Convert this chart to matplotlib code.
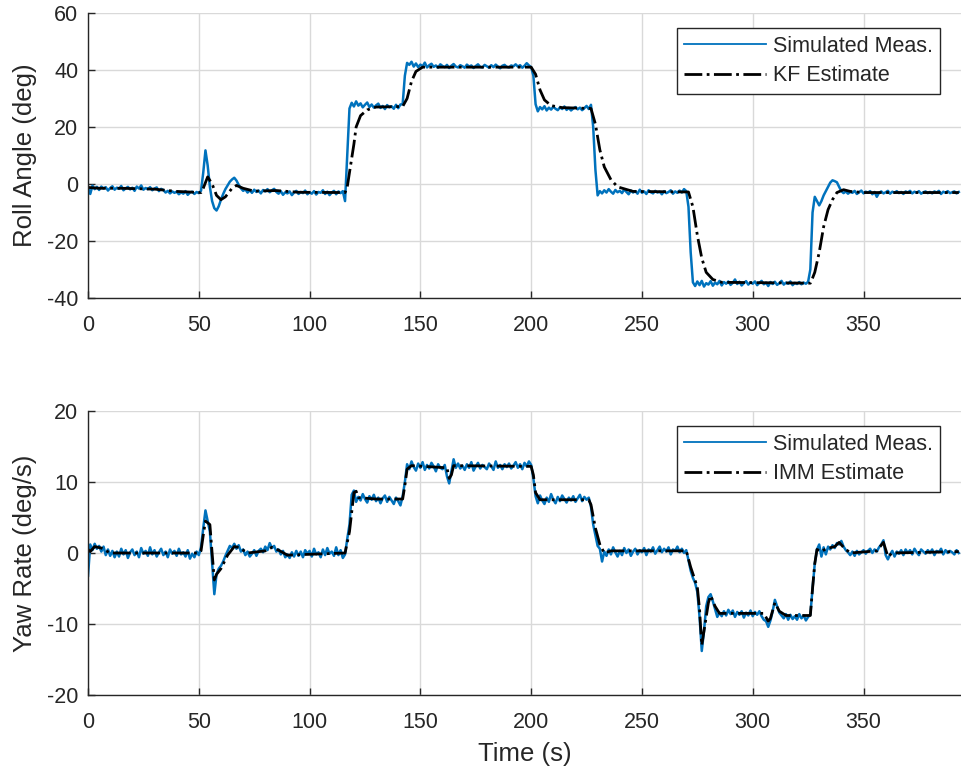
import numpy as np
import matplotlib.pyplot as plt

plt.rcParams['font.family'] = ['Liberation Sans', 'DejaVu Sans']
plt.rcParams['axes.unicode_minus'] = False

# simulated measurements, one value per second (t = 0..393 s)
roll_meas = [
    -1.2, -3.5, -0.6, -1.8, -1.0, -2.1, -0.9, -1.6, -1.1, -2.3,
    -1.4, -0.8, -2.0, -1.3, -1.7, -0.7, -2.2, -1.5, -1.0, -1.9,
    -1.3, -2.4, -0.9, -1.6, -0.5, -2.0, -1.4, -1.8, -1.1, -2.2,
    -1.6, -1.2, -2.5, -1.7, -2.1, -3.0, -2.4, -3.3, -2.6, -3.1,
    -2.7, -3.6, -2.9, -3.4, -2.5, -3.8, -3.0, -2.7, -3.5, -2.8,
    -3.2, -2.4, 4.0, 11.8, 6.5, -1.0, -6.0, -8.5, -9.3, -7.8,
    -5.5, -3.5, -1.8, -0.5, 0.8, 1.6, 2.2, 1.2, -0.3, -1.5,
    -2.4, -1.9, -3.0, -2.2, -3.1, -2.0, -2.8, -2.3, -3.3, -2.1,
    -2.6, -1.8, -2.9, -2.2, -1.7, -2.8, -3.4, -2.5, -3.8, -2.9,
    -3.3, -2.6, -3.9, -3.0, -2.4, -3.5, -2.8, -3.2, -2.3, -3.6,
    -2.9, -3.4, -2.5, -3.7, -2.8, -3.1, -2.2, -3.5, -2.7, -3.9,
    -3.0, -2.4, -3.6, -2.6, -3.2, -2.5, -6.0, 10.0, 26.5, 28.5,
    27.2, 29.0, 27.5, 28.3, 26.9, 27.8, 28.6, 27.0, 27.9, 26.8,
    27.6, 28.2, 26.7, 27.4, 26.3, 27.7, 26.9, 27.3, 26.4, 27.8,
    26.6, 27.9, 28.0, 38.0, 42.5, 41.8, 42.9, 41.2, 42.3, 41.0,
    41.9, 41.3, 42.6, 40.9, 41.7, 42.2, 41.1, 41.6, 40.8, 42.0,
    41.4, 41.0, 41.8, 40.7, 41.5, 42.1, 41.2, 40.9, 41.7, 41.3,
    40.8, 41.9, 41.2, 41.6, 40.7, 41.4, 42.0, 41.1, 40.9, 41.8,
    41.3, 40.8, 41.7, 41.0, 41.9, 41.2, 40.6, 41.5, 41.8, 41.1,
    40.9, 41.6, 41.3, 42.0, 41.2, 41.7, 40.8, 41.5, 42.4, 41.6,
    41.0, 38.0, 28.0, 25.5, 27.0, 26.2, 27.3, 25.8, 26.8, 26.1,
    27.1, 26.4, 25.9, 26.9, 26.3, 27.2, 26.0, 26.7, 25.8, 26.5,
    27.0, 26.2, 26.8, 25.9, 26.6, 27.4, 26.3, 27.8, 20.0, 5.0,
    -4.0, -2.5, -3.3, -2.2, -3.0, -1.8, -2.7, -3.4, -2.1, -2.9,
    -2.4, -3.2, -1.9, -2.8, -3.6, -2.3, -3.0, -2.5, -3.4, -2.0,
    -3.1, -2.6, -3.5, -2.2, -2.9, -3.3, -2.4, -3.0, -2.7, -3.6,
    -2.5, -3.2, -2.8, -2.2, -3.4, -2.6, -3.1, -2.3, -3.0, -1.8,
    -2.5, -8.0, -24.0, -34.5, -35.8, -34.2, -35.5, -34.0, -36.0, -34.8,
    -35.3, -34.1, -35.7, -34.6, -35.2, -34.0, -35.6, -34.4, -35.0, -34.2,
    -35.4, -34.7, -33.5, -35.1, -34.3, -35.6, -34.8, -34.1, -35.3, -34.5,
    -35.0, -34.2, -35.5, -34.7, -34.0, -35.2, -34.6, -35.8, -34.4, -35.1,
    -34.3, -35.4, -34.8, -34.0, -35.3, -34.6, -35.0, -34.2, -35.5, -34.7,
    -35.1, -34.4, -35.2, -34.6, -35.0, -34.3, -30.0, -10.0, -4.5, -6.0,
    -7.5, -6.0, -4.0, -2.5, -1.0, 0.5, 1.3, 1.0, 0.6, -1.0,
    -2.5, -3.2, -2.6, -3.4, -2.8, -3.1, -2.4, -3.5, -2.9, -2.3,
    -3.3, -2.7, -3.0, -2.5, -3.6, -2.8, -4.5, -3.1, -2.6, -3.3,
    -2.9, -2.4, -3.4, -2.7, -3.1, -2.5, -3.2, -2.8, -3.5, -2.6,
    -3.0, -2.4, -3.3, -2.7, -3.1, -2.5, -3.4, -2.9, -2.6, -3.2,
    -2.8, -3.3, -2.6, -3.0, -2.4, -3.5, -2.7, -3.1, -2.5, -3.2,
    -2.9, -2.6, -3.3, -2.8,
]

yaw_meas = [
    -3.2, 1.2, 0.4, 1.3, 0.6, 1.0, 0.2, 0.9, -0.3, 0.5,
    -0.4, 0.3, -0.6, 0.2, -0.5, 0.6, -0.2, 0.4, -0.7, 0.1,
    0.5, -0.3, 0.2, -0.6, 0.7, -0.1, 0.3, -0.4, 0.8, -0.2,
    0.4, -0.5, 0.1, 0.6, -0.3, 0.2, -0.6, 0.5, -0.1, 0.3,
    -0.4, 0.6, -0.2, 0.1, -0.5, 0.4, -0.8, -0.1, -0.6, 0.2,
    -0.3, 0.8, 3.5, 6.0, 4.5, 3.0, -1.5, -5.8, -3.0, -2.2,
    -1.8, -1.2, -0.4, 0.3, 1.0, 0.7, 1.3, 0.6, 1.1, 0.2,
    0.5, -0.3, 0.2, -0.5, -0.1, 0.4, -0.4, 0.3, 0.6, 0.1,
    0.9, 0.4, 1.4, 0.7, 1.0, 0.2, 0.5, -0.2, 0.3, -0.6,
    -0.2, -0.7, 0.1, -0.5, 0.3, -0.4, 0.2, -0.6, 0.4, -0.1,
    0.3, -0.5, 0.6, -0.2, 0.1, -0.6, 0.5, -0.3, 0.7, -0.1,
    0.2, -0.4, 0.8, -0.3, 0.4, -0.7, -0.2, 2.0, 4.0, 8.2,
    8.8, 7.2, 7.9, 7.4, 8.3, 7.6, 7.1, 8.0, 7.5, 8.2,
    7.3, 7.8, 7.0, 7.7, 8.1, 7.2, 7.9, 7.4, 6.9, 7.8,
    7.3, 6.7, 8.0, 10.0, 12.5, 11.8, 12.9, 12.1, 11.6, 12.6,
    12.0, 12.8, 11.7, 12.4, 11.9, 12.7, 12.2, 11.5, 12.5, 12.0,
    11.8, 12.4, 10.8, 9.8, 11.5, 13.2, 12.0, 12.6, 11.9, 12.3,
    11.7, 12.5, 12.0, 12.8, 11.6, 12.2, 12.7, 11.9, 12.4, 12.1,
    11.8, 12.6, 12.2, 11.7, 12.9, 12.0, 12.4, 11.8, 12.5, 12.1,
    12.6, 11.9, 12.3, 12.8, 12.0, 12.5, 11.8, 12.7, 12.2, 12.9,
    12.4, 10.5, 8.0, 7.0, 8.1, 7.4, 6.9, 7.8, 7.2, 8.3,
    7.5, 7.0, 7.9, 7.3, 8.1, 7.6, 7.1, 7.8, 7.4, 8.0,
    7.2, 7.7, 8.2, 7.3, 7.9, 7.5, 7.8, 6.5, 4.0, 2.5,
    1.0, 0.6, -1.2, 0.2, -0.4, 0.5, -0.2, 0.8, 0.1, -0.5,
    0.3, -0.3, 0.7, 0.0, 0.5, -0.4, 0.2, 0.6, -0.2, 0.4,
    0.1, 0.7, -0.3, 0.5, 0.2, 0.8, -0.1, 0.4, 0.9, 0.1,
    0.6, 0.2, 0.8, -0.2, 0.5, 0.3, 0.9, 0.1, 0.6, 0.0,
    0.4, -1.0, -2.5, -3.5, -4.2, -5.5, -9.0, -13.8, -11.0, -7.5,
    -6.2, -5.8, -6.8, -7.9, -9.0, -8.4, -8.9, -8.2, -8.8, -8.0,
    -8.6, -8.1, -9.0, -8.3, -8.7, -8.2, -9.1, -8.4, -8.8, -8.1,
    -8.9, -8.3, -8.7, -8.2, -8.9, -9.4, -9.6, -10.4, -9.5, -8.2,
    -6.6, -7.5, -8.4, -8.8, -9.2, -8.6, -9.4, -8.7, -9.3, -8.9,
    -9.4, -8.6, -9.2, -8.8, -9.5, -9.0, -8.7, -5.0, -1.5, 0.5,
    1.2, -0.5, 0.8, -0.2, 0.9, 0.5, 1.1, 0.7, 1.4, 1.2,
    1.7, 0.9, 0.4, 0.1, -0.3, 0.2, -0.4, 0.3, -0.2, 0.1,
    0.4, -0.1, 0.3, 0.6, 0.0, 0.5, 0.2, 0.8, 1.2, 1.8,
    -0.3, -0.9, -0.2, 0.3, -0.5, 0.2, -0.1, 0.4, -0.3, 0.5,
    0.0, 0.4, -0.2, 0.6, 0.1, -0.3, 0.5, 0.2, -0.1, 0.4,
    0.0, 0.5, -0.3, 0.3, 0.1, 0.6, -0.2, 0.4, 0.0, 0.3,
    0.1, -0.2, 0.4, 0.0,
]
t_meas = np.arange(len(roll_meas))

# KF estimate of roll angle (breakpoints)
kf_t = [0, 5, 15, 30, 40, 51, 52, 54, 56, 58, 60, 62, 65, 67, 70, 75, 85, 95,
        116, 117, 118, 120, 121, 123, 126, 130, 142, 144, 146, 148, 151, 200,
        202, 204, 206, 209, 214, 227, 229, 231, 233, 236, 239, 246, 271, 273,
        275, 277, 279, 282, 286, 326, 327, 328, 330, 332, 334, 336, 338, 341,
        344, 350, 393]
kf_roll = [-1.2, -1.5, -1.5, -1.8, -2.6, -3.0, -1.5, 2.5, 0.0, -4.0, -5.5, -4.5,
           -1.5, -0.5, -1.5, -2.5, -2.3, -2.9, -3.0, -1.0, 4.0, 14.0, 20.0, 24.0,
           26.0, 27.0, 27.2, 30.0, 36.0, 39.5, 41.0, 41.0, 38.5, 33.0, 29.5, 27.5,
           26.8, 26.5, 21.0, 12.0, 6.0, 1.5, -1.0, -2.6, -2.8, -8.0, -18.0, -26.0,
           -31.0, -33.5, -34.5, -34.8, -33.0, -31.0, -24.0, -15.0, -9.0, -5.5,
           -3.0, -2.0, -2.6, -3.0, -3.0]

# IMM estimate of yaw rate (breakpoints)
imm_t = [0, 1, 3, 6, 10, 50, 51, 52, 53, 55, 56, 57, 58, 60, 63, 66, 68, 72, 80,
         83, 86, 90, 116, 118, 120, 121, 122, 130, 142, 143, 144, 146, 162, 163,
         164, 165, 200, 201, 202, 204, 226, 227, 229, 231, 233, 236, 270, 272,
         275, 276, 277, 278, 280, 281, 283, 285, 305, 307, 308, 310, 312, 315,
         326, 327, 328, 329, 331, 333, 337, 339, 341, 344, 356, 359, 361, 363, 393]
imm_yaw = [0.5, 0.2, 0.9, 0.7, 0.0, 0.0, 0.3, 2.5, 4.5, 4.0, 0.0, -3.8, -3.0,
           -2.2, -0.3, 0.9, 0.8, 0.0, 0.3, 0.8, 0.4, -0.3, 0.0, 3.0, 8.5, 8.7,
           7.8, 7.6, 7.6, 9.5, 11.8, 12.3, 12.0, 10.5, 11.0, 12.3, 12.2, 11.0,
           8.5, 7.5, 7.5, 6.8, 3.5, 1.2, 0.0, 0.3, 0.3, -2.0, -4.8, -8.0, -13.0,
           -11.0, -7.0, -6.0, -7.5, -8.5, -8.5, -9.6, -9.2, -7.0, -8.2, -8.8,
           -8.8, -5.0, -1.5, 0.5, 0.2, 0.6, 0.9, 1.5, 0.8, 0.0, 0.3, 1.5, -0.5,
           0.0, 0.2]

blue = '#0072BD'
txt = '#262626'

fig = plt.figure(figsize=(9.61, 7.75), dpi=100)
ax1 = fig.add_axes([0.0916, 0.6155, 0.9084, 0.3677])
ax2 = fig.add_axes([0.0916, 0.1032, 0.9084, 0.3665])

panels = [
    (ax1, roll_meas, kf_t, kf_roll, 'KF Estimate', 'Roll Angle (deg)', (-40, 60), [-40, -20, 0, 20, 40, 60]),
    (ax2, yaw_meas, imm_t, imm_yaw, 'IMM Estimate', 'Yaw Rate (deg/s)', (-20, 20), [-20, -10, 0, 10, 20]),
]

for ax, meas, et, ev, elabel, ylabel, ylim, yticks in panels:
    ax.plot(t_meas, meas, color=blue, lw=1.8, label='Simulated Meas.')
    ax.plot(et, ev, color='black', lw=2.0, ls='-.', label=elabel)
    ax.set_xlim(0, 394)
    ax.set_ylim(*ylim)
    ax.set_yticks(yticks)
    ax.set_xticks([0, 50, 100, 150, 200, 250, 300, 350])
    ax.grid(True, color='#d9d9d9', lw=1.0)
    ax.set_axisbelow(True)
    for s in ['top', 'right']:
        ax.spines[s].set_visible(False)
    for s in ['left', 'bottom']:
        ax.spines[s].set_color(txt)
        ax.spines[s].set_linewidth(1.0)
    ax.tick_params(direction='in', length=5, width=1, colors=txt, labelsize=15.5)
    ax.tick_params(axis='x', pad=12)
    ax.tick_params(axis='y', pad=7)
    ax.set_ylabel(ylabel, fontsize=18.5, color=txt)
    ax.yaxis.set_label_coords(-0.058, 0.5)
    leg = ax.legend(loc='upper right', bbox_to_anchor=(0.976, 0.947), fontsize=15.5,
                    handlelength=3.8, handletextpad=0.3, labelspacing=0.4,
                    borderpad=0.35, borderaxespad=0, fancybox=False, framealpha=1)
    leg.get_frame().set_edgecolor(txt)
    leg.get_frame().set_linewidth(1.0)
    leg.get_lines()[0].set_linewidth(1.3)
    for t in leg.get_texts():
        t.set_color(txt)

ax2.set_xlabel('Time (s)', fontsize=18.5, color=txt)
ax2.xaxis.set_label_coords(0.5, -0.165)

fig.savefig('out.png', dpi=100)
